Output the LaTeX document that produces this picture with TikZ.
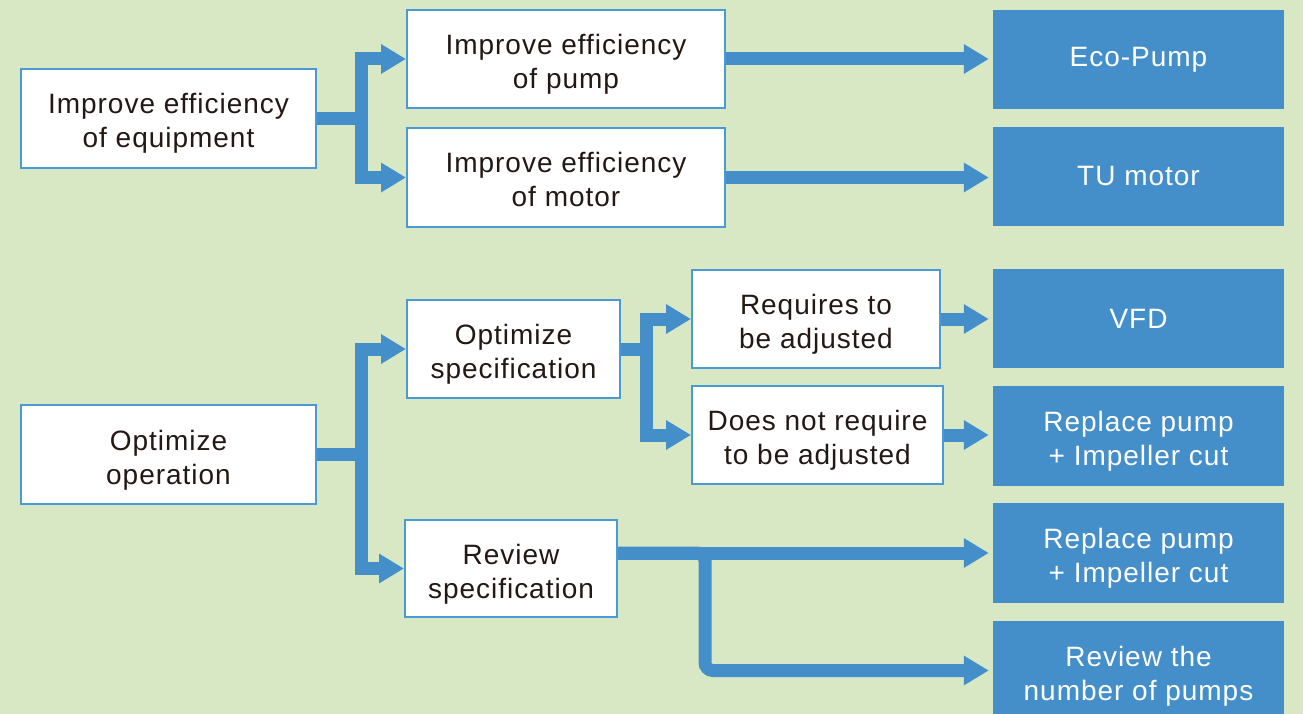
\documentclass[tikz,border=0pt]{standalone}
\usepackage{fontspec}
\setmainfont{Liberation Sans}[LetterSpace=3.5]
\usetikzlibrary{arrows.meta}
\definecolor{bg}{HTML}{D8E8C4}
\definecolor{fb}{HTML}{448FCA}
\definecolor{bd}{HTML}{4A9AD5}
\definecolor{tx}{HTML}{231815}
\newcommand\labfont{\fontsize{28pt}{34pt}\selectfont}
\newcommand\twol[2]{\rule{0pt}{31.5pt}#1\\#2\rule[-6.5pt]{0pt}{1pt}}
\begin{document}
\begin{tikzpicture}[x=1pt,y=-1pt,
  wbox/.style={draw=bd, line width=2pt, fill=white, text=tx, align=center, inner sep=0pt, font=\labfont},
  bbox/.style={fill=fb, text=white, align=center, inner sep=0pt, font=\labfont, minimum width=291pt, minimum height=99pt},
  conn/.style={draw=fb, line width=13pt, line join=miter, -{Triangle[length=25pt,width=28pt]}},
  toblue/.style={conn, shorten >=4pt}]
\fill[bg] (0,0) rectangle (1303,714);
\useasboundingbox (0,0) rectangle (1303,714);
\clip (0,0) rectangle (1303,714);
% white boxes
\node[wbox, minimum width=295pt, minimum height=99pt] (A) at (168.5,118.5) {\twol{Improve efficiency}{of equipment}};
\node[wbox, minimum width=318pt, minimum height=98pt] (B) at (566,59) {\twol{Improve efficiency}{of pump}};
\node[wbox, minimum width=318pt, minimum height=99pt] (C) at (566,177.5) {\twol{Improve efficiency}{of motor}};
\node[wbox, minimum width=295pt, minimum height=99pt] (D) at (168.5,454.5) {\twol{Optimize}{operation}};
\node[wbox, minimum width=213pt, minimum height=98pt] (E) at (513.5,349) {\twol{Optimize}{specification}};
\node[wbox, minimum width=248pt, minimum height=98pt] (F) at (816,319) {\twol{Requires to}{be adjusted}};
\node[wbox, minimum width=251pt, minimum height=98pt] (G) at (817.5,435) {\twol{Does not require}{to be adjusted}};
\node[wbox, minimum width=212pt, minimum height=97pt] (H) at (511,568.5) {\twol{Review}{specification}};
% blue boxes
\node[bbox] (P1) at (1138.5,59.5) {Eco-Pump};
\node[bbox] (P2) at (1138.5,176.5) {TU motor};
\node[bbox] (P3) at (1138.5,318.5) {VFD};
\node[bbox, minimum height=100pt] (P4) at (1138.5,436) {\twol{Replace pump}{+ Impeller cut}};
\node[bbox, minimum height=100pt] (P5) at (1138.5,553) {\twol{Replace pump}{+ Impeller cut}};
\node[bbox] (P6) at (1138.5,670.5) {\twol{Review the}{number of pumps}};
% trunks
\coordinate (t1) at (361,0);
\coordinate (t2) at (646,0);
\coordinate (t3) at (705,0);
% connectors
\draw[conn] (A.east) -- (A.east -| t1) |- (B.west);
\draw[conn] (A.east) -- (A.east -| t1) |- (C.west);
\draw[conn] (D.east) -- (D.east -| t1) |- (E.west);
\draw[conn] (D.east) -- (D.east -| t1) |- (H.west);
\draw[conn] (E.east) -- (E.east -| t2) |- (F.west);
\draw[conn] (E.east) -- (E.east -| t2) |- (G.west);
\draw[toblue] (B.east) -- (B.east -| P1.west);
\draw[toblue] (C.east) -- (C.east -| P2.west);
\draw[toblue] (F.east) -- (F.east -| P3.west);
\draw[toblue] (G.east) -- (G.east -| P4.west);
\draw[toblue] (H.east |- P5.west) -- (P5.west);
\draw[toblue, rounded corners=8pt] (H.east |- P5.west) -- (t3 |- P5.west) |- (P6.west);
\end{tikzpicture}
\end{document}
